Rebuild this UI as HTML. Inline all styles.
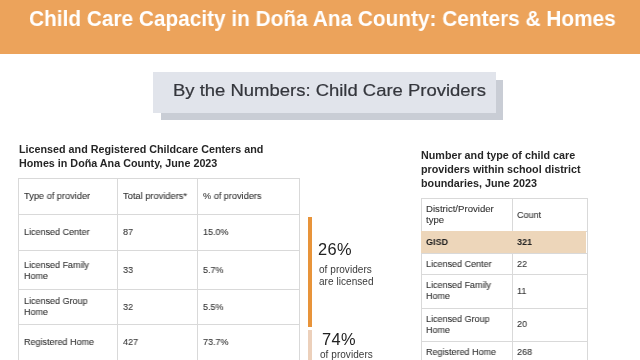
<!DOCTYPE html>
<html><head><meta charset="utf-8"><style>
html,body{margin:0;padding:0;}
body{width:640px;height:360px;overflow:hidden;position:relative;background:#fff;font-family:"Liberation Sans", sans-serif;}
</style></head><body>
<div style="position:absolute;left:0px;top:0px;width:640px;height:54px;background:#eca35b;"></div>
<div style="position:absolute;left:29.4px;top:7.55px;font-size:22.5px;line-height:22.5px;font-weight:700;color:#fff;letter-spacing:0px;white-space:nowrap;will-change:transform;transform:scaleX(0.925);transform-origin:0 0;">Child Care Capacity in Doña Ana County: Centers &amp; Homes</div>
<div style="position:absolute;left:161px;top:79.5px;width:342px;height:40.0px;background:#c9cdd5;"></div>
<div style="position:absolute;left:153px;top:72px;width:342.5px;height:40.5px;background:#e1e4eb;"></div>
<div style="position:absolute;left:173px;top:82.81px;font-size:15.7px;line-height:15.7px;font-weight:400;color:#34363c;letter-spacing:0px;white-space:nowrap;will-change:transform;transform:scaleX(1.177);transform-origin:0 0;-webkit-text-stroke:0.2px #34363c;">By the Numbers: Child Care Providers</div>
<div style="position:absolute;left:19px;top:142.48px;font-size:10.75px;line-height:14.2px;font-weight:700;color:#262626;letter-spacing:0px;white-space:nowrap;will-change:transform;">Licensed and Registered Childcare Centers and<br>Homes in Doña Ana County, June 2023</div>
<div style="position:absolute;left:18.75px;top:177.75px;width:281.0px;height:1.0px;background:#d9d9d9;"></div>
<div style="position:absolute;left:18.75px;top:214.0px;width:281.0px;height:1.0px;background:#d9d9d9;"></div>
<div style="position:absolute;left:18.75px;top:250.0px;width:281.0px;height:1.0px;background:#d9d9d9;"></div>
<div style="position:absolute;left:18.75px;top:288.8px;width:281.0px;height:1.0px;background:#d9d9d9;"></div>
<div style="position:absolute;left:18.75px;top:323.8px;width:281.0px;height:1.0px;background:#d9d9d9;"></div>
<div style="position:absolute;left:18.25px;top:177.75px;width:1.0px;height:182.25px;background:#d9d9d9;"></div>
<div style="position:absolute;left:117.0px;top:177.75px;width:1.0px;height:182.25px;background:#d9d9d9;"></div>
<div style="position:absolute;left:197.1px;top:177.75px;width:1.0px;height:182.25px;background:#d9d9d9;"></div>
<div style="position:absolute;left:298.75px;top:177.75px;width:1.0px;height:182.25px;background:#d9d9d9;"></div>
<div style="position:absolute;left:24.3px;top:190.79px;font-size:9.4px;line-height:9.4px;font-weight:400;color:#333333;letter-spacing:0px;white-space:nowrap;will-change:transform;transform:scaleX(0.985);transform-origin:0 0;-webkit-text-stroke:0.1px #333333;">Type of provider</div>
<div style="position:absolute;left:123.2px;top:190.79px;font-size:9.4px;line-height:9.4px;font-weight:400;color:#333333;letter-spacing:0px;white-space:nowrap;will-change:transform;transform:scaleX(0.99);transform-origin:0 0;-webkit-text-stroke:0.1px #333333;">Total providers*</div>
<div style="position:absolute;left:203.2px;top:190.79px;font-size:9.4px;line-height:9.4px;font-weight:400;color:#333333;letter-spacing:0px;white-space:nowrap;will-change:transform;transform:scaleX(0.975);transform-origin:0 0;-webkit-text-stroke:0.1px #333333;">% of providers</div>
<div style="position:absolute;left:24.3px;top:227.34px;font-size:9.4px;line-height:9.4px;font-weight:400;color:#333333;letter-spacing:0px;white-space:nowrap;will-change:transform;transform:scaleX(0.96);transform-origin:0 0;-webkit-text-stroke:0.1px #333333;">Licensed Center</div>
<div style="position:absolute;left:123.2px;top:227.34px;font-size:9.4px;line-height:9.4px;font-weight:400;color:#333333;letter-spacing:0px;white-space:nowrap;will-change:transform;transform:scaleX(0.96);transform-origin:0 0;-webkit-text-stroke:0.1px #333333;">87</div>
<div style="position:absolute;left:203.2px;top:227.34px;font-size:9.4px;line-height:9.4px;font-weight:400;color:#333333;letter-spacing:0px;white-space:nowrap;will-change:transform;transform:scaleX(0.96);transform-origin:0 0;-webkit-text-stroke:0.1px #333333;">15.0%</div>
<div style="position:absolute;left:24.3px;top:258.79px;font-size:9.4px;line-height:11.3px;font-weight:400;color:#333333;letter-spacing:0px;white-space:nowrap;will-change:transform;transform:scaleX(0.96);transform-origin:0 0;-webkit-text-stroke:0.1px #333333;">Licensed Family<br>Home</div>
<div style="position:absolute;left:123.2px;top:264.74px;font-size:9.4px;line-height:9.4px;font-weight:400;color:#333333;letter-spacing:0px;white-space:nowrap;will-change:transform;transform:scaleX(0.96);transform-origin:0 0;-webkit-text-stroke:0.1px #333333;">33</div>
<div style="position:absolute;left:203.2px;top:264.74px;font-size:9.4px;line-height:9.4px;font-weight:400;color:#333333;letter-spacing:0px;white-space:nowrap;will-change:transform;transform:scaleX(0.96);transform-origin:0 0;-webkit-text-stroke:0.1px #333333;">5.7%</div>
<div style="position:absolute;left:24.3px;top:294.89px;font-size:9.4px;line-height:11.3px;font-weight:400;color:#333333;letter-spacing:0px;white-space:nowrap;will-change:transform;transform:scaleX(0.96);transform-origin:0 0;-webkit-text-stroke:0.1px #333333;">Licensed Group<br>Home</div>
<div style="position:absolute;left:123.2px;top:301.84px;font-size:9.4px;line-height:9.4px;font-weight:400;color:#333333;letter-spacing:0px;white-space:nowrap;will-change:transform;transform:scaleX(0.96);transform-origin:0 0;-webkit-text-stroke:0.1px #333333;">32</div>
<div style="position:absolute;left:203.2px;top:301.84px;font-size:9.4px;line-height:9.4px;font-weight:400;color:#333333;letter-spacing:0px;white-space:nowrap;will-change:transform;transform:scaleX(0.96);transform-origin:0 0;-webkit-text-stroke:0.1px #333333;">5.5%</div>
<div style="position:absolute;left:24.3px;top:337.24px;font-size:9.4px;line-height:9.4px;font-weight:400;color:#333333;letter-spacing:0px;white-space:nowrap;will-change:transform;transform:scaleX(0.96);transform-origin:0 0;-webkit-text-stroke:0.1px #333333;">Registered Home</div>
<div style="position:absolute;left:123.2px;top:337.24px;font-size:9.4px;line-height:9.4px;font-weight:400;color:#333333;letter-spacing:0px;white-space:nowrap;will-change:transform;transform:scaleX(0.96);transform-origin:0 0;-webkit-text-stroke:0.1px #333333;">427</div>
<div style="position:absolute;left:203.2px;top:337.24px;font-size:9.4px;line-height:9.4px;font-weight:400;color:#333333;letter-spacing:0px;white-space:nowrap;will-change:transform;transform:scaleX(0.96);transform-origin:0 0;-webkit-text-stroke:0.1px #333333;">73.7%</div>
<div style="position:absolute;left:308px;top:217px;width:3.5px;height:109.69999999999999px;background:#e8943a;"></div>
<div style="position:absolute;left:308px;top:330.2px;width:3.5px;height:29.80000000000001px;background:#ecd0bb;"></div>
<div style="position:absolute;left:318.2px;top:240.92px;font-size:16.4px;line-height:16.4px;font-weight:400;color:#222;letter-spacing:0.4px;white-space:nowrap;will-change:transform;">26%</div>
<div style="position:absolute;left:318.6px;top:263.88px;font-size:10px;line-height:12.1px;font-weight:400;color:#3a3a3a;letter-spacing:0.05px;white-space:nowrap;will-change:transform;">of providers<br>are licensed</div>
<div style="position:absolute;left:322px;top:331.02px;font-size:16.4px;line-height:16.4px;font-weight:400;color:#222;letter-spacing:0.4px;white-space:nowrap;will-change:transform;">74%</div>
<div style="position:absolute;left:319.8px;top:348.79px;font-size:10px;line-height:12.1px;font-weight:400;color:#3a3a3a;letter-spacing:0.05px;white-space:nowrap;will-change:transform;">of providers</div>
<div style="position:absolute;left:421.3px;top:148.18px;font-size:10.75px;line-height:14.2px;font-weight:700;color:#262626;letter-spacing:0px;white-space:nowrap;will-change:transform;">Number and type of child care<br>providers within school district<br>boundaries, June 2023</div>
<div style="position:absolute;left:420.5px;top:198.4px;width:167.0px;height:1.0px;background:#d9d9d9;"></div>
<div style="position:absolute;left:420.5px;top:230.8px;width:167.0px;height:1.0px;background:#d9d9d9;"></div>
<div style="position:absolute;left:420.5px;top:252.8px;width:167.0px;height:1.0px;background:#d9d9d9;"></div>
<div style="position:absolute;left:420.5px;top:273.5px;width:167.0px;height:1.0px;background:#d9d9d9;"></div>
<div style="position:absolute;left:420.5px;top:307.7px;width:167.0px;height:1.0px;background:#d9d9d9;"></div>
<div style="position:absolute;left:420.5px;top:341.0px;width:167.0px;height:1.0px;background:#d9d9d9;"></div>
<div style="position:absolute;left:420.5px;top:198.4px;width:1.0px;height:161.6px;background:#d9d9d9;"></div>
<div style="position:absolute;left:511.70000000000005px;top:198.4px;width:1.0px;height:161.6px;background:#d9d9d9;"></div>
<div style="position:absolute;left:586.5px;top:198.4px;width:1.0px;height:161.6px;background:#d9d9d9;"></div>
<div style="position:absolute;left:420.7px;top:231.3px;width:165.7px;height:22.0px;background:#edd6ba;"></div>
<div style="position:absolute;left:425.8px;top:203.14px;font-size:9.4px;line-height:11.0px;font-weight:400;color:#333333;letter-spacing:0px;white-space:nowrap;will-change:transform;transform:scaleX(1.025);transform-origin:0 0;-webkit-text-stroke:0.1px #333333;">District/Provider<br>type</div>
<div style="position:absolute;left:516.7px;top:209.84px;font-size:9.4px;line-height:9.4px;font-weight:400;color:#333333;letter-spacing:0px;white-space:nowrap;will-change:transform;transform:scaleX(0.96);transform-origin:0 0;-webkit-text-stroke:0.1px #333333;">Count</div>
<div style="position:absolute;left:425.8px;top:237.04px;font-size:9.4px;line-height:9.4px;font-weight:700;color:#222;letter-spacing:0px;white-space:nowrap;will-change:transform;transform:scaleX(0.96);transform-origin:0 0;">GISD</div>
<div style="position:absolute;left:516.7px;top:237.04px;font-size:9.4px;line-height:9.4px;font-weight:700;color:#222;letter-spacing:0px;white-space:nowrap;will-change:transform;transform:scaleX(0.96);transform-origin:0 0;">321</div>
<div style="position:absolute;left:425.8px;top:259.04px;font-size:9.4px;line-height:9.4px;font-weight:400;color:#333333;letter-spacing:0px;white-space:nowrap;will-change:transform;transform:scaleX(0.96);transform-origin:0 0;-webkit-text-stroke:0.1px #333333;">Licensed Center</div>
<div style="position:absolute;left:516.7px;top:259.04px;font-size:9.4px;line-height:9.4px;font-weight:400;color:#333333;letter-spacing:0px;white-space:nowrap;will-change:transform;transform:scaleX(0.96);transform-origin:0 0;-webkit-text-stroke:0.1px #333333;">22</div>
<div style="position:absolute;left:425.8px;top:278.84px;font-size:9.4px;line-height:11.4px;font-weight:400;color:#333333;letter-spacing:0px;white-space:nowrap;will-change:transform;transform:scaleX(0.96);transform-origin:0 0;-webkit-text-stroke:0.1px #333333;">Licensed Family<br>Home</div>
<div style="position:absolute;left:516.7px;top:285.84px;font-size:9.4px;line-height:9.4px;font-weight:400;color:#333333;letter-spacing:0px;white-space:nowrap;will-change:transform;transform:scaleX(0.96);transform-origin:0 0;-webkit-text-stroke:0.1px #333333;">11</div>
<div style="position:absolute;left:425.8px;top:312.59px;font-size:9.4px;line-height:11.1px;font-weight:400;color:#333333;letter-spacing:0px;white-space:nowrap;will-change:transform;transform:scaleX(0.96);transform-origin:0 0;-webkit-text-stroke:0.1px #333333;">Licensed Group<br>Home</div>
<div style="position:absolute;left:516.7px;top:319.04px;font-size:9.4px;line-height:9.4px;font-weight:400;color:#333333;letter-spacing:0px;white-space:nowrap;will-change:transform;transform:scaleX(0.96);transform-origin:0 0;-webkit-text-stroke:0.1px #333333;">20</div>
<div style="position:absolute;left:425.8px;top:346.64px;font-size:9.4px;line-height:9.4px;font-weight:400;color:#333333;letter-spacing:0px;white-space:nowrap;will-change:transform;transform:scaleX(0.96);transform-origin:0 0;-webkit-text-stroke:0.1px #333333;">Registered Home</div>
<div style="position:absolute;left:516.7px;top:346.64px;font-size:9.4px;line-height:9.4px;font-weight:400;color:#333333;letter-spacing:0px;white-space:nowrap;will-change:transform;transform:scaleX(0.96);transform-origin:0 0;-webkit-text-stroke:0.1px #333333;">268</div>
</body></html>
